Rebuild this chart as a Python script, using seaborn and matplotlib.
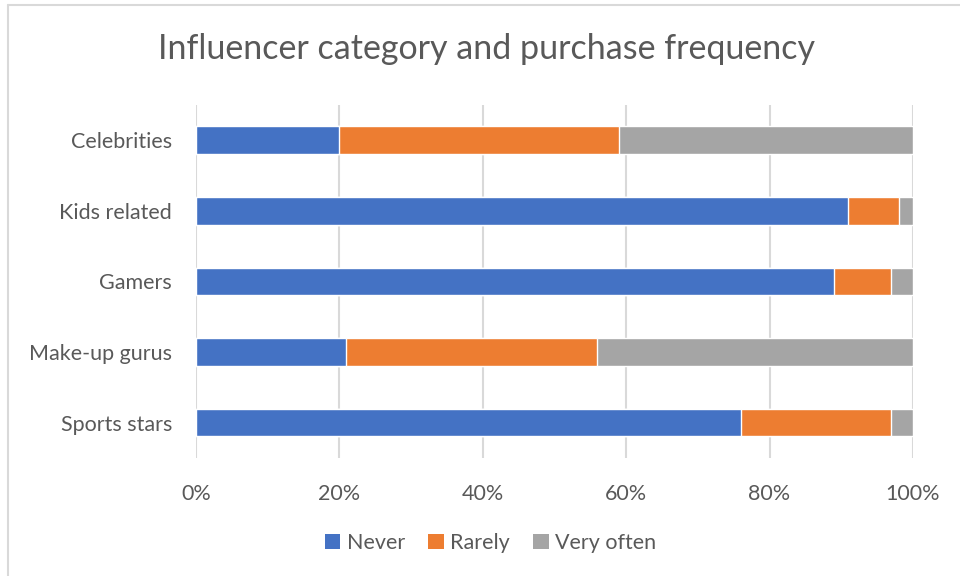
import pandas as pd
import matplotlib.pyplot as plt
import seaborn as sns
from matplotlib.patches import Patch
from matplotlib.lines import Line2D

# Dados (percentuais)
categorias = ["Celebrities", "Kids related", "Gamers", "Make-up gurus", "Sports stars"]
never = [20, 91, 89, 21, 76]
rarely = [39, 7, 8, 35, 21]
very_often = [41, 2, 3, 44, 3]

series = ["Never", "Rarely", "Very often"]
cores = ["#4472c4", "#ed7d31", "#a5a5a5"]
cor_texto = "#595959"
cor_grade = "#d9d9d9"

df = pd.DataFrame({
    "Categoria": categorias,
    "Never": never,
    "Rarely": rarely,
    "Very often": very_often,
})
# cumulativos para empilhar
df["c1"] = df["Never"]
df["c2"] = df["c1"] + df["Rarely"]
df["c3"] = df["c2"] + df["Very often"]

sns.set_theme(style="white")
plt.rcParams["font.family"] = ["Lato", "DejaVu Sans"]

fig = plt.figure(figsize=(9.6, 5.76), dpi=100)
ax = fig.add_axes([0.204, 0.205, 0.747, 0.613])

for col, cor in zip(["c3", "c2", "c1"], cores[::-1]):
    sns.barplot(data=df, x=col, y="Categoria", color=cor, width=0.39,
                orient="h", ax=ax, zorder=3, saturation=1)

ax.set_xlim(0, 100)
ax.set_ylim(4.5, -0.5)
ax.set_xticks(range(0, 101, 20))
ax.set_xticklabels([f"{v}%" for v in range(0, 101, 20)])
ax.grid(axis="x", color=cor_grade, linewidth=1.5, zorder=0)
ax.grid(axis="y", visible=False)
for s in ax.spines.values():
    s.set_visible(False)
ax.set_xlabel("")
ax.set_ylabel("")
ax.tick_params(axis="y", length=0, pad=17, labelsize=15.5, labelcolor=cor_texto)
ax.tick_params(axis="x", length=0, pad=19, labelsize=15.5, labelcolor=cor_texto)

fig.text(0.507, 0.915, "Influencer category and purchase frequency",
         ha="center", va="center", fontsize=24.5, color=cor_texto)

handles = [Patch(facecolor=c, edgecolor="none") for c in cores]
fig.legend(handles, series, loc="center", bbox_to_anchor=(0.511, 0.057),
           ncol=3, frameon=False, fontsize=15.5, labelcolor=cor_texto,
           handlelength=0.7, handleheight=0.7, handletextpad=0.3,
           columnspacing=1.1)

# borda do gráfico (estilo Excel)
fig.add_artist(Line2D([8 / 960, 8 / 960], [0, 1 - 5 / 576], color=cor_grade,
                      linewidth=1.5, transform=fig.transFigure))
fig.add_artist(Line2D([8 / 960, 1], [1 - 5 / 576, 1 - 5 / 576], color=cor_grade,
                      linewidth=1.5, transform=fig.transFigure))

fig.savefig("out.png", dpi=100)
